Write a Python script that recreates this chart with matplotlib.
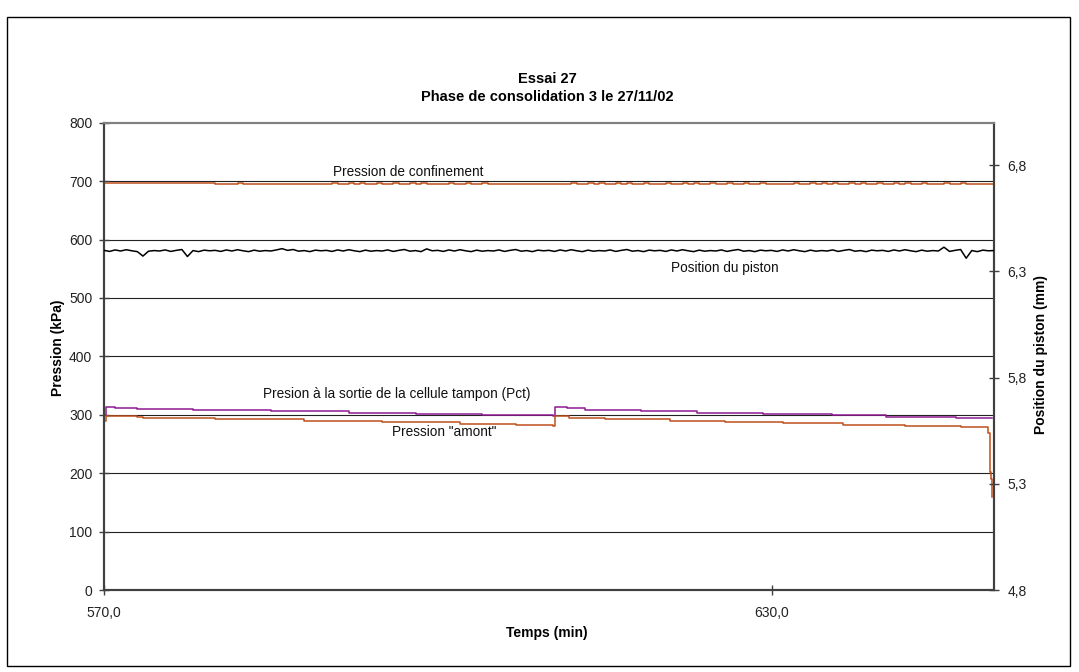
import numpy as np
import matplotlib
matplotlib.use("Agg")
import matplotlib.pyplot as plt
from matplotlib.patches import Rectangle

plt.rcParams['font.family'] = ['Liberation Sans', 'DejaVu Sans']

# ---------------- data ----------------
title_lines = ["Essai 27", "Phase de consolidation 3 le 27/11/02"]
x_label = "Temps (min)"
y_label = "Pression (kPa)"
y2_label = "Position du piston (mm)"
x_ticks = [570.0, 630.0]
x_tick_labels = ["570,0", "630,0"]
y_ticks = [0, 100, 200, 300, 400, 500, 600, 700, 800]
y2_ticks = [4.8, 5.3, 5.8, 6.3, 6.8]
y2_tick_labels = ["4,8", "5,3", "5,8", "6,3", "6,8"]

# Pression de confinement (kPa), one reading per half minute 570..650
conf_t0, conf_dt = 570.0, 0.5
conf_v = [697.5, 697, 697, 697, 696.5, 696.5, 696.5, 696, 696, 696,
          696, 696, 696, 696, 696, 696, 696, 696, 696, 696,
          695.5, 695.5, 695.5, 695.5, 696.5, 695.5, 695.5, 695.5, 695.5, 695.5,
          695.5, 695.5, 695.5, 695.5, 695.5, 695.5, 695.5, 695.5, 695.5, 695.5,
          695.5, 696.5, 695.5, 695.5, 696.5, 695.5, 696.5, 695.5, 695.5, 696.5,
          695.5, 695.5, 696.5, 695.5, 695.5, 696.5, 695.5, 696.5, 695.5, 695.5,
          695, 695, 696, 695, 695, 696.5, 695, 695, 696, 695,
          695, 695, 695, 695, 695, 695, 695, 695, 695, 695,
          695, 695, 695, 695, 696.5, 695, 695, 696, 695, 696.5,
          695, 695, 696, 695, 696.5, 695, 695, 696, 695, 695,
          695, 696.5, 695, 695, 696, 695, 696.5, 695, 695, 696,
          695, 695, 696.5, 695, 695, 696, 695, 695, 696.5, 695,
          695, 695, 695, 695, 696, 695, 695, 696.5, 695, 696,
          695, 696.5, 695, 695, 696, 695, 696.5, 695, 695, 696,
          695, 695, 696.5, 695, 696, 695, 695, 696.5, 695, 695,
          695, 696, 695, 695, 696.5, 695, 695, 695, 695, 695,
          695]

# Position du piston (mm), one reading per half minute 570..650
pist_t0, pist_dt = 570.0, 0.5
pist_v = [6.399, 6.394, 6.401, 6.396, 6.402, 6.397, 6.393, 6.372, 6.395, 6.398,
          6.396, 6.401, 6.394, 6.399, 6.403, 6.370, 6.398, 6.393, 6.400, 6.397,
          6.399, 6.394, 6.401, 6.396, 6.402, 6.397, 6.393, 6.400, 6.395, 6.398,
          6.396, 6.401, 6.407, 6.399, 6.403, 6.395, 6.398, 6.393, 6.400, 6.397,
          6.399, 6.394, 6.401, 6.396, 6.402, 6.397, 6.393, 6.400, 6.395, 6.398,
          6.396, 6.401, 6.394, 6.399, 6.403, 6.395, 6.398, 6.393, 6.406, 6.397,
          6.399, 6.394, 6.401, 6.396, 6.402, 6.397, 6.393, 6.400, 6.395, 6.398,
          6.396, 6.401, 6.394, 6.399, 6.403, 6.395, 6.398, 6.393, 6.400, 6.397,
          6.399, 6.394, 6.401, 6.396, 6.402, 6.397, 6.393, 6.400, 6.395, 6.398,
          6.396, 6.401, 6.394, 6.399, 6.403, 6.395, 6.398, 6.393, 6.400, 6.397,
          6.399, 6.394, 6.401, 6.396, 6.402, 6.397, 6.393, 6.400, 6.395, 6.398,
          6.396, 6.401, 6.394, 6.399, 6.403, 6.395, 6.398, 6.393, 6.400, 6.397,
          6.399, 6.394, 6.401, 6.396, 6.402, 6.397, 6.393, 6.400, 6.395, 6.398,
          6.396, 6.401, 6.394, 6.399, 6.403, 6.395, 6.398, 6.393, 6.400, 6.397,
          6.399, 6.394, 6.401, 6.396, 6.402, 6.397, 6.393, 6.400, 6.395, 6.398,
          6.396, 6.414, 6.394, 6.399, 6.403, 6.362, 6.398, 6.393, 6.400, 6.397,
          6.398]

# Presion a la sortie de la cellule tampon (Pct), kPa
pct_t = [570.0, 570.15, 571.0, 573.0, 578.0, 585.0, 592.0, 598.0, 604.0, 610.4,
         610.5, 611.6, 613.2, 618.3, 623.3, 629.2, 635.4, 640.3, 646.6, 649.8]
pct_v = [300, 313, 311, 309.5, 308, 306, 303.5, 301.5, 299.5, 298,
         313.5, 311, 308, 305.6, 303, 301, 299, 297, 295, 294.5]

# Pression "amont", kPa
amont_t = [570.0, 570.15, 573.0, 573.5, 580.0, 588.0, 595.0, 602.0, 607.0, 610.4,
           610.5, 611.8, 615.0, 620.9, 625.8, 631.0, 636.4, 642.0, 647.0, 649.3,
           649.5, 649.65, 649.7, 649.8]
amont_v = [290, 298, 297, 295, 293, 290, 287.5, 284.5, 282.5, 281.3,
           298, 294, 292, 290, 288, 285.4, 283, 281, 279.6, 278.6,
           268, 202, 190, 160]

annotations = [
    ("Pression de confinement", 597.3, 715),
    ("Position du piston", 625.8, 551),
    ("Presion à la sortie de la cellule tampon (Pct)", 596.3, 336),
    ("Pression \"amont\"", 600.6, 270),
]

# ---------------- figure ----------------
W, H = 1079, 672
fig = plt.figure(figsize=(W / 100, H / 100), dpi=100)
fig.patch.set_facecolor('white')
fig.patches.append(Rectangle((7 / W, 1 - 666 / H), (1070 - 7) / W, (666 - 17) / H,
                             transform=fig.transFigure, fill=False,
                             edgecolor='black', linewidth=1.0))

left, right, top, bottom = 104, 994, 122.7, 590
ax = fig.add_axes([left / W, 1 - bottom / H, (right - left) / W, (bottom - top) / H])
ax2 = ax.twinx()

orange = '#C0501E'
purple = '#8E1A92'

conf_t = conf_t0 + conf_dt * np.arange(len(conf_v))
pist_t = pist_t0 + pist_dt * np.arange(len(pist_v))

ax.plot(conf_t, conf_v, color=orange, lw=1.1, drawstyle='steps-post', zorder=3)
ax.plot(pct_t, pct_v, color=purple, lw=1.1, drawstyle='steps-post', zorder=3)
ax.plot(amont_t, amont_v, color=orange, lw=1.1, drawstyle='steps-post', zorder=3)
ax2.plot(pist_t, pist_v, color='black', lw=1.1, zorder=3)

ax.set_xlim(570, 650)
ax.set_ylim(0, 800)
ax2.set_ylim(4.8, 7.0)

ax.set_yticks(y_ticks)
ax.set_xticks(x_ticks)
ax.set_xticklabels(x_tick_labels)
ax2.set_yticks(y2_ticks)
ax2.set_yticklabels(y2_tick_labels)

for yv in y_ticks[1:-1]:
    ax.axhline(yv, color='#222222', lw=0.8, zorder=1)

for a in (ax, ax2):
    for s in ('left', 'right', 'bottom'):
        a.spines[s].set_color('#404040')
        a.spines[s].set_linewidth(1.5)
    a.spines['top'].set_color('#7f7f7f')
    a.spines['top'].set_linewidth(1.5)
    a.tick_params(direction='inout', length=7, width=1, colors='#404040',
                  labelcolor='#222222', labelsize=10, pad=5)
ax.tick_params(axis='x', pad=8)
ax2.tick_params(axis='y', pad=6)

for txt, tx, ty in annotations:
    ax.text(tx, ty, txt, ha='center', va='center', fontsize=9.8, color='#111111', zorder=4)

fig.text(547 / W, 1 - 79 / H, title_lines[0], ha='center', va='center',
         fontsize=10.5, fontweight='bold')
fig.text(547 / W, 1 - 97 / H, title_lines[1], ha='center', va='center',
         fontsize=10.5, fontweight='bold')
fig.text(547 / W, 1 - 633 / H, x_label, ha='center', va='center',
         fontsize=10, fontweight='bold')
fig.text(58 / W, 1 - 348 / H, y_label, ha='center', va='center', rotation=90,
         fontsize=10, fontweight='bold')
fig.text(1041 / W, 1 - 355 / H, y2_label, ha='center', va='center', rotation=90,
         fontsize=10, fontweight='bold')

fig.savefig('out.png', dpi=100)
